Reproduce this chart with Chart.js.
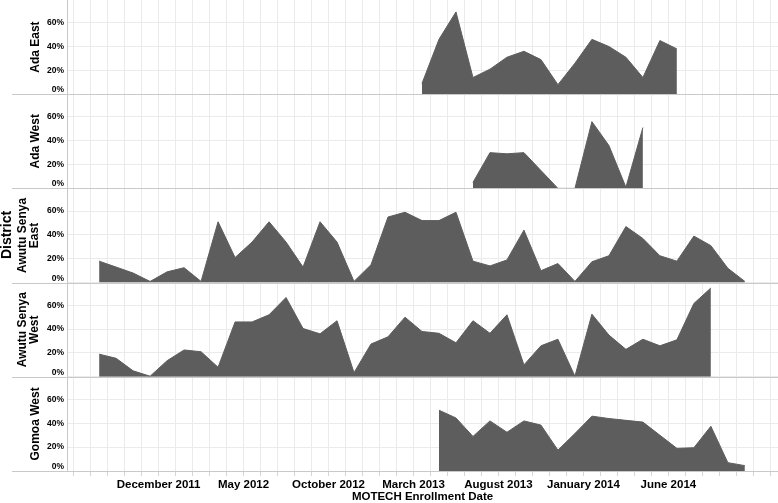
<!DOCTYPE html>
<html><head><meta charset="utf-8">
<script src="https://cdn.jsdelivr.net/npm/chart.js@4/dist/chart.umd.min.js"></script>
<style>
html,body{margin:0;padding:0;background:#fff;}
#wrap{position:relative;width:778px;height:503px;overflow:hidden;}
#district{position:absolute;left:-44.5px;top:226.5px;width:100px;height:16px;line-height:16px;text-align:center;
  transform:rotate(-90deg);font:bold 14px 'Liberation Sans',Arial,sans-serif;color:#000;}
</style></head><body>
<div id="wrap"><canvas id="c" width="778" height="503"></canvas><div id="district">District</div></div>
<script>
// Months on the axis (category per month)
const months = ['Jul 2011','Aug 2011','Sep 2011','Oct 2011','Nov 2011','Dec 2011',
  'Jan 2012','Feb 2012','Mar 2012','Apr 2012','May 2012','Jun 2012','Jul 2012','Aug 2012','Sep 2012','Oct 2012','Nov 2012','Dec 2012',
  'Jan 2013','Feb 2013','Mar 2013','Apr 2013','May 2013','Jun 2013','Jul 2013','Aug 2013','Sep 2013','Oct 2013','Nov 2013','Dec 2013',
  'Jan 2014','Feb 2014','Mar 2014','Apr 2014','May 2014','Jun 2014','Jul 2014','Aug 2014','Sep 2014','Oct 2014','Nov 2014','Dec 2014'];
const tickMonths = ['Dec 2011','May 2012','Oct 2012','Mar 2013','Aug 2013','Jan 2014','Jun 2014'];
const tickLabels = ['December 2011','May 2012','October 2012','March 2013','August 2013','January 2014','June 2014'];
const yTicks = [0,20,40,60];

const districts = ['Ada East','Ada West','Awutu Senya East','Awutu Senya West','Gomoa West'];
const districtTitles = [['Ada East'],['Ada West'],['Awutu Senya','East'],['Awutu Senya','West'],['Gomoa West']];
const startMonths = ['Mar 2013','Jun 2013','Aug 2011','Aug 2011','Apr 2013'];

const adaEast = [9,46,69,14,21,31,36,29,8,26,46,40,31,14,45,38];
const adaWest = [5,30,29,30,15,0,0,56,36,1,51];
const awutuSenyaEast = [18,13,8,1,9,12.5,1,51,21,34,51,34,13,51,34,1,15,55,
  59,52,52,59,18,14,19,44,10,16,1,17.5,22.5,47,37,22.5,18,39,31,12,1];
const awutuSenyaWest = [19,15.5,5,0.5,13.5,22.5,21,8,46,46,52,66.5,40.5,36,47,3.5,27.5,33.5,
  50,38,36.5,28.5,47,36.5,52,10,26,31.5,0.5,52.5,35,23,31.5,26,31,61.5,74.5];
const gomoaWest = [51,44.5,29,42,32.5,42,38.5,17.5,31.5,46,44,42.5,41,30,19,19.5,37.5,7,4.5];

const seriesValues = [adaEast, adaWest, awutuSenyaEast, awutuSenyaWest, gomoaWest];

const FONT = "'Liberation Sans', Arial, sans-serif";
Chart.defaults.font.family = FONT;
const areaColor = '#5d5d5d';
const gridColor = '#ebebeb';
const sepColor = '#c9c9c9';

const scales = {
  x: {
    type:'linear', position:'bottom', min:-0.39, max:41.45,
    afterBuildTicks: sc => { sc.ticks = months.map((m,i)=>({value:i})); },
    afterFit: sc => { sc.height = 32; sc.paddingLeft = 0; sc.paddingRight = 0; },
    ticks:{autoSkip:false, maxRotation:0, minRotation:0, padding:3, color:'#000',
      font:{size:11.5, weight:'bold', lineHeight:1},
      callback: v => { const k = tickMonths.indexOf(months[v]); return k>=0 ? tickLabels[k] : ''; }},
    grid:{color:gridColor, tickLength:5, tickColor:'#d6d6d6', drawTicks:true},
    border:{display:true, color:sepColor},
    title:{display:true, text:'MOTECH Enrollment Date', color:'#000', padding:{top:0,bottom:0},
      font:{size:11.5, weight:'bold', lineHeight:1}}
  }
};
// stacked axes are laid out bottom-up, so add them in reverse order (Ada East on top)
for (let i = districts.length - 1; i >= 0; i--) {
  const two = districtTitles[i].length > 1;
  scales['y'+i] = {
    type:'linear', position:'left', stack:'districts', stackWeight:1, offset:false,
    min:0, max:79,
    afterBuildTicks: sc => { sc.ticks = yTicks.map(v=>({value:v})); },
    afterFit: sc => { sc.width = 67; sc.paddingTop = 0; sc.paddingBottom = 0; },
    ticks:{autoSkip:false, padding:3, color:'#000', font:{size:8.5, weight:'bold', lineHeight:1},
      callback: v => v===0 ? ['0%',''] : v+'%'},
    grid:{color:gridColor, drawTicks:false},
    border:{display:true, color:sepColor},
    title:{display:true, text: two ? districtTitles[i] : districtTitles[i][0], color:'#000',
      font:{size:12, weight:'bold', lineHeight:1}, padding:{top: two ? 17 : 29.5, bottom:0}}
  };
}

const separators = {
  id:'separators',
  afterDraw(chart){
    const ctx = chart.ctx, ca = chart.chartArea;
    ctx.save();
    ctx.strokeStyle = sepColor; ctx.lineWidth = 1;
    districts.forEach((d,i)=>{
      const sc = chart.scales['y'+i];
      const y = Math.round(sc.bottom) + 0.5;
      ctx.beginPath(); ctx.moveTo(12, y); ctx.lineTo(ca.right, y); ctx.stroke();
    });
    ctx.restore();
  }
};

new Chart(document.getElementById('c'), {
  type:'line',
  data:{
    datasets: districts.map((d,i)=>({
      label:d,
      data: seriesValues[i].map((v,k)=>({x: months.indexOf(startMonths[i]) + k + 0.5, y: v})),
      xAxisID:'x', yAxisID:'y'+i,
      fill:'origin', backgroundColor:areaColor, borderColor:areaColor, borderWidth:1,
      pointRadius:0, tension:0
    }))
  },
  options:{
    responsive:false, animation:false, devicePixelRatio:1,
    layout:{padding:0, autoPadding:false},
    plugins:{legend:{display:false}, tooltip:{enabled:false}},
    scales
  },
  plugins:[separators]
});
</script>
</body></html>
